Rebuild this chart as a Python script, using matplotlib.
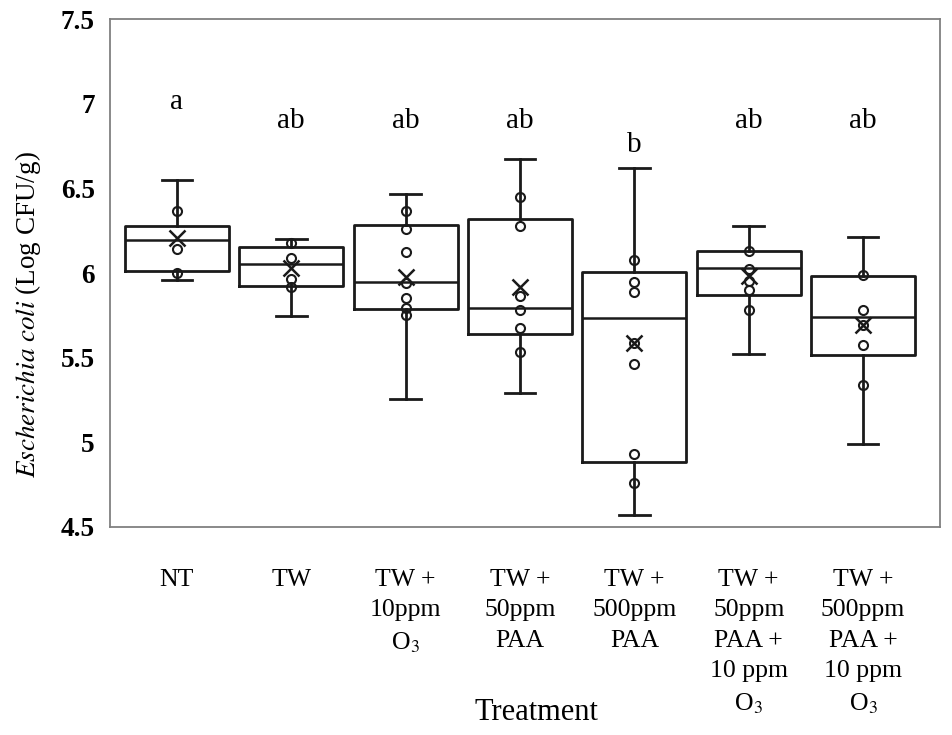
import numpy as np
import matplotlib.pyplot as plt

# 各处理组的箱线图统计量 (Log CFU/g)
labels = ['NT', 'TW', 'TW +\n10ppm\nO$_3$', 'TW +\n50ppm\nPAA', 'TW +\n500ppm\nPAA',
          'TW +\n50ppm\nPAA +\n10 ppm\nO$_3$', 'TW +\n500ppm\nPAA +\n10 ppm\nO$_3$']
whislo = [5.958, 5.746, 5.256, 5.293, 4.568, 5.519, 4.990]
q1 = [6.013, 5.925, 5.785, 5.640, 4.885, 5.870, 5.515]
med = [6.195, 6.051, 5.948, 5.795, 5.736, 6.028, 5.740]
q3 = [6.279, 6.152, 6.285, 6.319, 6.007, 6.130, 5.984]
whishi = [6.549, 6.200, 6.465, 6.671, 6.622, 6.277, 6.212]
means = [6.207, 6.030, 5.978, 5.915, 5.584, 5.985, 5.693]
points = [
    [6.366, 6.140, 5.998],
    [6.175, 6.087, 5.964, 5.915],
    [6.366, 6.260, 6.122, 5.942, 5.850, 5.795, 5.750],
    [6.450, 6.277, 5.864, 5.781, 5.677, 5.533],
    [6.077, 5.945, 5.886, 5.584, 5.462, 4.929, 4.757],
    [6.130, 6.023, 5.952, 5.899, 5.781],
    [5.988, 5.781, 5.693, 5.574, 5.337],
]
letters = ['a', 'ab', 'ab', 'ab', 'b', 'ab', 'ab']
letter_y = [6.97, 6.856, 6.856, 6.856, 6.714, 6.856, 6.856]

plt.rcParams['font.family'] = ['Liberation Serif', 'DejaVu Serif']
plt.rcParams['mathtext.fontset'] = 'stix'

fig = plt.figure(figsize=(9.52, 7.35), dpi=100)
ax = fig.add_axes([0.1155, 0.283, 0.8719, 0.691])

pos = np.arange(1, len(labels) + 1)
stats = []
for i in range(len(labels)):
    stats.append(dict(med=med[i], q1=q1[i], q3=q3[i], whislo=whislo[i],
                      whishi=whishi[i], mean=means[i], fliers=[]))

line = dict(color='#1a1a1a', linewidth=2)
ax.bxp(stats, positions=pos, widths=0.91, showmeans=False, showfliers=False,
       boxprops=line, whiskerprops=line, capprops=line,
       medianprops=dict(color='#1a1a1a', linewidth=1.8), capwidths=0.27)

for i, pts in enumerate(points):
    ax.plot([pos[i]] * len(pts), pts, 'o', ms=6.5, mfc='none', mec='#1a1a1a', mew=1.5)
ax.plot(pos, means, 'x', ms=12, mec='#1a1a1a', mew=1.8, linestyle='none')

for i in range(len(labels)):
    ax.text(pos[i], letter_y[i], letters[i], ha='center', va='baseline', fontsize=21)

ax.set_xlim(0.414, 7.673)
ax.set_ylim(4.5, 7.5)
ax.set_yticks([4.5, 5, 5.5, 6, 6.5, 7, 7.5])
ax.set_yticklabels(['4.5', '5', '5.5', '6', '6.5', '7', '7.5'], fontweight='bold', fontsize=19.5)
ax.set_xticks(pos)
ax.set_xticklabels(labels, fontsize=18.5, linespacing=1.5, va='top')
ax.tick_params(axis='both', length=0)
ax.tick_params(axis='x', pad=30)
ax.tick_params(axis='y', pad=11)
for s in ax.spines.values():
    s.set_color('#808080')
    s.set_linewidth(1.3)

fig.text(0.5636, 0.030, 'Treatment', ha='center', va='center', fontsize=22)
fig.text(0.029, 0.5714, r'$\it{Escherichia\ coli}$ (Log CFU/g)', rotation=90,
         ha='center', va='center', fontsize=19.5)

fig.savefig('out.png', dpi=100)
